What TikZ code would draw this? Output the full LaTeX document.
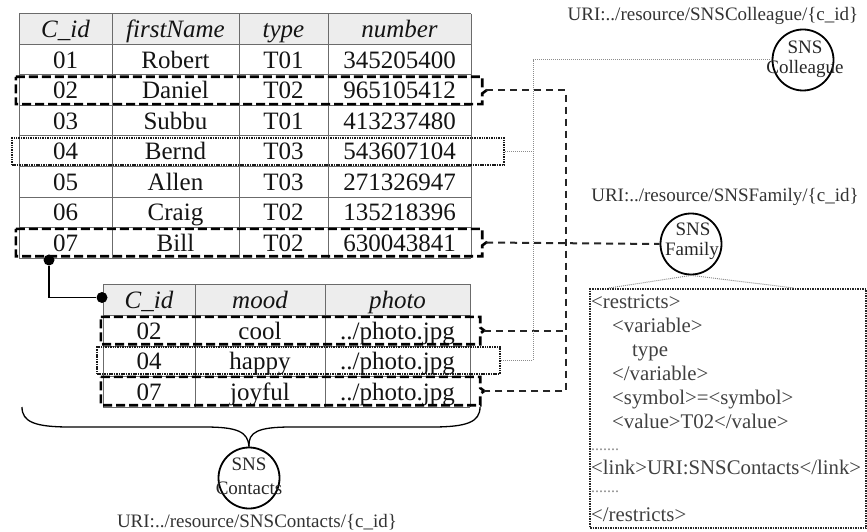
\documentclass[tikz,border=0pt]{standalone}
\usepackage{fontspec}
\setmainfont{Liberation Serif}
\usetikzlibrary{calc}
% dashed outline of a selected row, with a small brace-like notch on its right side
\newcommand\rowmark[1]{%
  \draw[selline] (#1.north west) -- (#1.north east) -- ([yshift=3pt]#1.east)
    -- ([xshift=4pt]#1.east) -- ([yshift=-3pt]#1.east) -- (#1.south east)
    -- (#1.south west) -- cycle;}
\begin{document}
\begin{tikzpicture}[x=1pt,y=-1pt,
  gridline/.style={draw=black!58, line width=1pt},
  celltext/.style={font=\fontsize{25}{28}\selectfont, anchor=base, inner sep=0pt, text=black!92},
  headtext/.style={font=\fontsize{25}{28}\selectfont\itshape, anchor=base, inner sep=0pt, text=black!92},
  selbox/.style={rectangle, inner sep=0pt},
  selline/.style={draw=black, line width=2.6pt, dash pattern=on 9pt off 4pt},
  dotsel/.style={rectangle, draw=black!90, line width=2.6pt, dash pattern=on 1.5pt off 0.9pt, inner sep=0pt},
  dashlink/.style={draw=black!85, line width=2pt, dash pattern=on 7pt off 5pt},
  dotlink/.style={draw=black!45, line width=1pt, dash pattern=on 1pt off 1pt},
  resource/.style={circle, draw=black, line width=1.8pt, minimum size=61pt, inner sep=0pt},
  restext/.style={font=\fontsize{19}{19}\selectfont, text=black!85, inner sep=0pt, anchor=base},
  uritext/.style={font=\fontsize{19}{19}\selectfont, text=black!80, inner sep=0pt, anchor=base},
  xmltext/.style={font=\fontsize{20.8}{20.8}\selectfont, text=black!75, inner sep=0pt, anchor=base west},
  ellip/.style={font=\fontsize{16}{16}\selectfont, text=black!45, inner sep=0pt, anchor=base west},
  keydot/.style={circle, fill=black, minimum size=11pt, inner sep=0pt},
]
\useasboundingbox (0,0) rectangle (867,532);

% ---- contacts table ----
\fill[black!7] (19,14) rectangle (471,44.5);
\foreach \y in {14,44.5,75,105.5,136,166.5,197,227.5,258}
  \draw[gridline] (19,\y) -- (471,\y);
\foreach \x in {19,112,239,328,471}
  \draw[gridline] (\x,14) -- (\x,258);
\node[headtext] (hA) at (65.5,37.5) {C\_id};
\node[headtext] (hB) at (175.5,37.5) {firstName};
\node[headtext] (hC) at (283.5,37.5) {type};
\node[headtext] (hD) at (399.5,37.5) {number};
\foreach \id/\nm/\ty/\nu [count=\k] in {01/Robert/T01/345205400,02/Daniel/T02/965105412,
    03/Subbu/T01/413237480,04/Bernd/T03/543607104,05/Allen/T03/271326947,
    06/Craig/T02/135218396,07/Bill/T02/630043841}{
  \pgfmathsetmacro\yb{29.25+30.5*\k+8.5}
  \node[celltext] (a\k) at (65.5,\yb) {\id};
  \node[celltext] (b\k) at (175.5,\yb) {\nm};
  \node[celltext] (c\k) at (283.5,\yb) {\ty};
  \node[celltext] (d\k) at (399.5,\yb) {\nu};
}

% ---- mood table ----
\fill[black!7] (103,284) rectangle (470,315.5);
\foreach \y in {284,315.5,346,376.5,407}
  \draw[gridline] (103,\y) -- (470,\y);
\foreach \x in {103,195,325,470}
  \draw[gridline] (\x,284) -- (\x,407);
\node[headtext] (mA) at (149,308) {C\_id};
\node[headtext] (mB) at (260,308) {mood};
\node[headtext] (mC) at (397.5,308) {photo};
\foreach \id/\md [count=\k] in {02/cool,04/happy,07/joyful}{
  \pgfmathsetmacro\yb{300+30.5*\k+8.5}
  \node[celltext] (ma\k) at (149,\yb) {\id};
  \node[celltext] (mb\k) at (260,\yb) {\md};
  \node[celltext] (mc\k) at (397.5,\yb) {../photo.jpg};
}

% key link between the tables
\node[keydot] (pk) at (49,260) {};
\node[keydot] (fk) at (102,297.5) {};
\draw[line width=1.5pt] (pk) |- (fk);

% ---- selected rows ----
\node[selbox, minimum width=466pt, minimum height=27pt] (sA) at (249,90.5) {};
\node[dotsel, minimum width=492pt, minimum height=27pt] (sD) at (258,151.5) {};
\node[selbox, minimum width=466pt, minimum height=27pt] (sG) at (249,242.5) {};
\node[selbox, minimum width=379pt, minimum height=27pt] (sAb) at (290.5,330.5) {};
\node[dotsel, minimum width=403pt, minimum height=27pt] (sDb) at (298.5,360.5) {};
\node[selbox, minimum width=379pt, minimum height=28pt] (sGb) at (290.5,391) {};
\rowmark{sA}
\rowmark{sG}
\rowmark{sAb}
\rowmark{sGb}

% ---- resources ----
\node[resource] (col) at (803,60) {};
\node[restext] (colA) at (805,54) {SNS};
\node[restext] (colB) at (805,74) {Colleague};
\node[uritext] (colU) at (713,21) {URI:../resource/SNSColleague/\{c\_id\}};

\node[resource] (fam) at (691,244) {};
\node[restext] (famA) at (693,235) {SNS};
\node[restext] (famB) at (692,255) {Family};
\node[uritext] (famU) at (725,201) {URI:../resource/SNSFamily/\{c\_id\}};

\node[resource] (con) at (249,478) {};
\node[restext] (conA) at (249,470) {SNS};
\node[restext] (conB) at (249,494) {Contacts};
\node[uritext] (conU) at (257,527) {URI:../resource/SNSContacts/\{c\_id\}};

% brace grouping the mood table
\coordinate (braceTip) at (con.north);
\draw[line width=1.3pt] (22,407) .. controls (22,422) and (35,427) .. (70,427) -- (205,427)
  .. controls (238,427) and (248,432) .. (braceTip);
\draw[line width=1.3pt] (480,407) .. controls (480,422) and (467,427) .. (432,427) -- (291,427)
  .. controls (258,427) and (248,432) .. (braceTip);

% ---- links ----
\coordinate (dTop) at (566,90.5);
\coordinate (dBot) at (566,391);
\draw[dashlink] ([xshift=4pt]sA.east) -- (dTop) -- (dBot) -- ([xshift=4pt]sGb.east);
\draw[dashlink] ([xshift=4pt]sAb.east) -- (sAb.east -| dTop);
\draw[dashlink] ([xshift=4pt]sG.east) -- (fam.west);

\coordinate (pTop) at (533,60);
\coordinate (pBot) at (533,360.5);
\draw[dotlink] (col.west) -- (pTop) -- (pBot) -- (sDb.east);
\draw[dotlink] (sD.east) -- (sD.east -| pTop);

% ---- restriction rule ----
\node[draw=black!85, line width=2pt, dash pattern=on 1.5pt off 1pt, rectangle,
  minimum width=276pt, minimum height=239pt, inner sep=0pt, anchor=north west] (rbox) at (589,288) {};
\draw[dotlink] (fam.south) -- ($(rbox.north west)+(20,0)$);
\draw[dotlink] (fam.south) -- ($(rbox.north west)+(205,0)$);

\node[xmltext] (x1) at (591,308) {<restricts>};
\node[xmltext] (x2) at (612,332) {<variable>};
\node[xmltext] (x3) at (632,356) {type};
\node[xmltext] (x4) at (612,380) {</variable>};
\node[xmltext] (x5) at (612,404) {<symbol>=<symbol>};
\node[xmltext] (x6) at (612,428) {<value>T02</value>};
\node[ellip]   (x7) at (591,450) {.......};
\node[xmltext] (x8) at (591,474) {<link>URI:SNSContacts</link>};
\node[ellip]   (x9) at (591,492) {.......};
\node[xmltext] (x10) at (591,521) {</restricts>};
\end{tikzpicture}
\end{document}
